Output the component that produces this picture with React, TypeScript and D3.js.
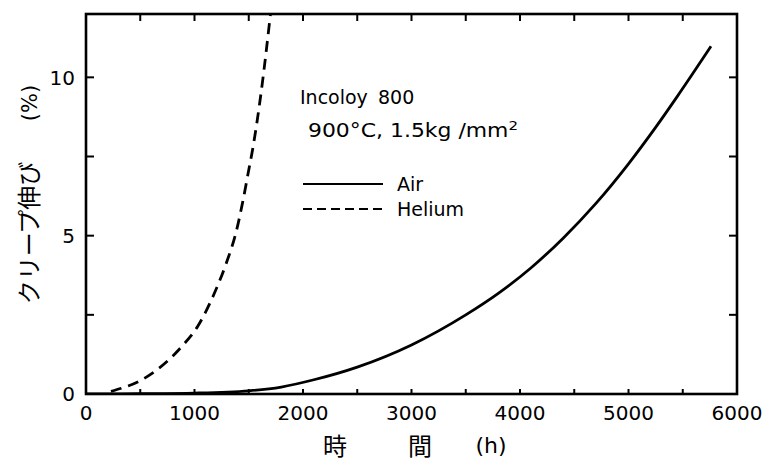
import React from "react";
import * as d3 from "d3";

// Creep strain (%) of Incoloy 800 at 900°C, 1.5 kg/mm², vs. time (h)
const airHours = [0, 500, 1000, 1500, 1800, 2100, 2500, 3000, 3500, 3800, 4100, 4400, 4700, 5000, 5250, 5450, 5760];
const airStrain = [0, 0.01, 0.03, 0.1, 0.22, 0.45, 0.85, 1.55, 2.5, 3.18, 3.98, 4.93, 6.02, 7.27, 8.42, 9.4, 10.98];

const heliumHours = [230, 574, 883, 1030, 1198, 1295, 1384, 1444, 1496, 1536, 1617, 1700];
const heliumStrain = [0.08, 0.57, 1.5, 2.14, 3.3, 4.15, 5.12, 6.06, 7.0, 7.73, 9.6, 12];

const xTickLabels = [0, 1000, 2000, 3000, 4000, 5000, 6000];
const yTickLabels = [0, 5, 10];
const xMinorTicks = d3.range(0, 6001, 500);
const yMinorTicks = d3.range(0, 12.01, 2.5);

const W = 772;
const H = 465;
const left = 86;
const right = 737;
const top = 14;
const bottom = 394;

const NUM_FONT = "'DejaVu Sans', sans-serif";
const CJK_FONT = "'Noto Sans CJK JP', sans-serif";

export default function App() {
  const x = d3.scaleLinear().domain([0, 6000]).range([left, right]);
  const y = d3.scaleLinear().domain([0, 12]).range([bottom, top]);

  const line = d3
    .line<[number, number]>()
    .x((d) => x(d[0]))
    .y((d) => y(d[1]))
    .curve(d3.curveMonotoneX);

  const airPts: [number, number][] = airHours.map((h, i) => [h, airStrain[i]]);
  const hePts: [number, number][] = heliumHours.map((h, i) => [h, heliumStrain[i]]);

  return (
    <svg
      width={W}
      height={H}
      viewBox={`0 0 ${W} ${H}`}
      style={{ position: "absolute", left: 0, top: 0, background: "#fff" }}
    >
      <defs>
        <clipPath id="plot">
          <rect x={left} y={top} width={right - left} height={bottom - top} />
        </clipPath>
      </defs>
      <rect width={W} height={H} fill="#fff" />

      {/* frame */}
      <rect
        x={left}
        y={top}
        width={right - left}
        height={bottom - top}
        fill="none"
        stroke="#000"
        strokeWidth={2.6}
      />

      {/* ticks, pointing inward */}
      {xMinorTicks.map((t) => (
        <g key={"xt" + t}>
          <line x1={x(t)} x2={x(t)} y1={bottom} y2={bottom - 5} stroke="#000" strokeWidth={2} />
          <line x1={x(t)} x2={x(t)} y1={top} y2={top + 7} stroke="#000" strokeWidth={2} />
        </g>
      ))}
      {yMinorTicks.map((t) => (
        <g key={"yt" + t}>
          <line x1={left} x2={left + 8} y1={y(t)} y2={y(t)} stroke="#000" strokeWidth={2} />
          <line x1={right} x2={right - 8} y1={y(t)} y2={y(t)} stroke="#000" strokeWidth={2} />
        </g>
      ))}

      {/* tick labels */}
      {xTickLabels.map((t) => (
        <text
          key={"xl" + t}
          x={x(t)}
          y={420}
          textAnchor="middle"
          fontFamily={NUM_FONT}
          fontSize={20}
          fill="#000"
        >
          {t}
        </text>
      ))}
      {yTickLabels.map((t) => (
        <text
          key={"yl" + t}
          x={75}
          y={y(t)}
          dy="0.36em"
          textAnchor="end"
          fontFamily={NUM_FONT}
          fontSize={20}
          fill="#000"
        >
          {t}
        </text>
      ))}

      {/* axis titles */}
      <text x={335} y={455} textAnchor="middle" fontFamily={CJK_FONT} fontSize={24} fill="#000">
        時
      </text>
      <text x={420} y={455} textAnchor="middle" fontFamily={CJK_FONT} fontSize={24} fill="#000">
        間
      </text>
      <text x={491} y={453} textAnchor="middle" fontFamily={NUM_FONT} fontSize={22} fill="#000">
        (h)
      </text>
      <text
        transform="translate(38,233) rotate(-90)"
        textAnchor="middle"
        fontFamily={CJK_FONT}
        fontSize={24}
        fill="#000"
      >
        クリープ伸び
      </text>
      <text
        transform="translate(37,103) rotate(-90)"
        textAnchor="middle"
        fontFamily={NUM_FONT}
        fontSize={21}
        fill="#000"
      >
        (%)
      </text>

      {/* curves */}
      <g clipPath="url(#plot)">
        <path d={line(airPts) ?? ""} fill="none" stroke="#000" strokeWidth={2.8} />
        <path
          d={line(hePts) ?? ""}
          fill="none"
          stroke="#000"
          strokeWidth={2.8}
          strokeDasharray="11,7"
        />
      </g>

      {/* annotation */}
      <text x={300} y={104} fontFamily={NUM_FONT} fontSize={19} fill="#000">
        Incoloy
      </text>
      <text x={378} y={104} fontFamily={NUM_FONT} fontSize={19} fill="#000">
        800
      </text>
      <text
        x={308}
        y={137}
        fontFamily={NUM_FONT}
        fontSize={19}
        fill="#000"
        textLength={210}
        lengthAdjust="spacingAndGlyphs"
      >
        900°C, 1.5kg /mm
        <tspan dy={-7} fontSize={13}>
          2
        </tspan>
      </text>

      {/* legend */}
      <line x1={303} x2={383} y1={184} y2={184} stroke="#000" strokeWidth={2} />
      <text x={397} y={191} fontFamily={NUM_FONT} fontSize={19} fill="#000">
        Air
      </text>
      <line
        x1={303}
        x2={383}
        y1={209}
        y2={209}
        stroke="#000"
        strokeWidth={2}
        strokeDasharray="9,5"
      />
      <text x={397} y={216} fontFamily={NUM_FONT} fontSize={19} fill="#000">
        Helium
      </text>
    </svg>
  );
}
